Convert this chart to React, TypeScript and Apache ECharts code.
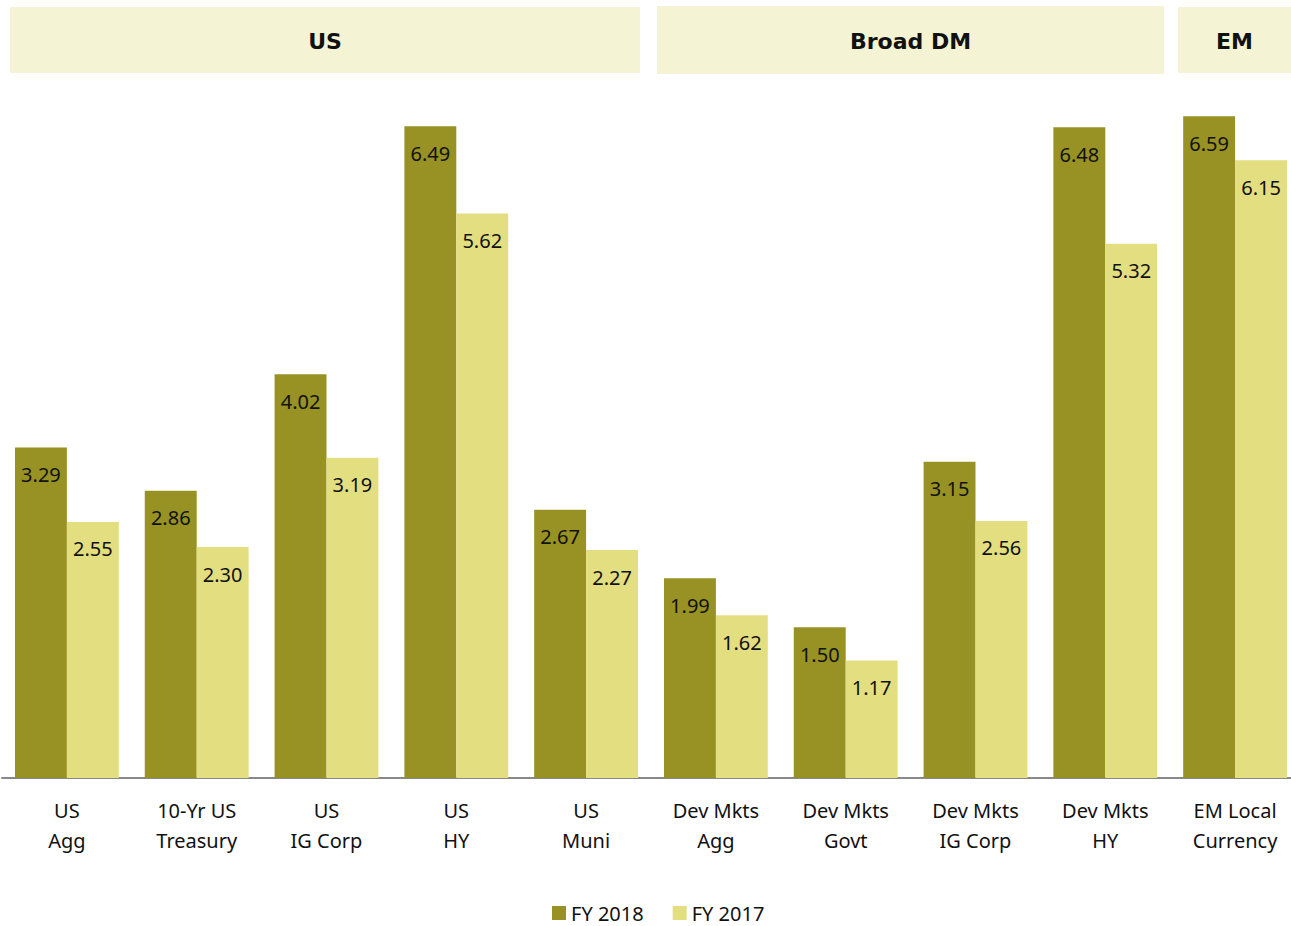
import React, { useEffect, useRef } from "react";
import * as echarts from "echarts";

const categories = [
  "US\nAgg",
  "10-Yr US\nTreasury",
  "US\nIG Corp",
  "US\nHY",
  "US\nMuni",
  "Dev Mkts\nAgg",
  "Dev Mkts\nGovt",
  "Dev Mkts\nIG Corp",
  "Dev Mkts\nHY",
  "EM Local\nCurrency",
];
const fy2018 = [3.29, 2.86, 4.02, 6.49, 2.67, 1.99, 1.5, 3.15, 6.48, 6.59];
const fy2017 = [2.55, 2.3, 3.19, 5.62, 2.27, 1.62, 1.17, 2.56, 5.32, 6.15];
const groupLabels = ["US", "Broad DM", "EM"];

const FONT = "'Noto Sans', sans-serif";

export default function App() {
  const ref = useRef<HTMLDivElement>(null);
  useEffect(() => {
    if (!ref.current) return;
    const chart = echarts.init(ref.current, null, { renderer: "svg" });
    const headerBoxes = [
      { x: 10, y: 7, w: 630, h: 66 },
      { x: 657, y: 6, w: 507, h: 68 },
      { x: 1178, y: 7, w: 113, h: 66 },
    ];
    const labelOpt = {
      show: true,
      position: "insideTop" as const,
      distance: 17,
      color: "#111",
      fontSize: 20,
      fontFamily: FONT,
      formatter: (p: any) => Number(p.value).toFixed(2),
    };
    chart.setOption({
      animation: false,
      backgroundColor: "#fff",
      graphic: headerBoxes.map((b, i) => ({
        type: "group",
        children: [
          {
            type: "rect",
            shape: { x: b.x, y: b.y, width: b.w, height: b.h },
            style: { fill: "#f4f3d4" },
          },
          {
            type: "text",
            x: b.x + b.w / 2,
            y: b.y + b.h / 2 + 1,
            style: {
              text: groupLabels[i],
              fill: "#111",
              font: "bold 22px 'DejaVu Sans', sans-serif",
              align: "center",
              verticalAlign: "middle",
            },
          },
        ],
      })),
      legend: {
        left: 552,
        top: 903,
        padding: 0,
        icon: "rect",
        itemWidth: 14,
        itemHeight: 14,
        itemGap: 29,
        textStyle: { fontSize: 20, fontFamily: FONT, color: "#111" },
        data: ["FY 2018", "FY 2017"],
      },
      grid: { left: 2, width: 1298, top: 75, height: 703, outerBoundsMode: "none", containLabel: false },
      xAxis: {
        type: "category",
        data: categories,
        axisLine: { show: true, lineStyle: { color: "#888", width: 2 } },
        axisTick: { show: false },
        axisLabel: {
          interval: 0,
          margin: 17,
          fontSize: 20,
          lineHeight: 30,
          fontFamily: FONT,
          color: "#111",
        },
      },
      yAxis: {
        type: "value",
        min: 0,
        max: 7,
        show: false,
        splitLine: { show: false },
      },
      series: [
        {
          name: "FY 2018",
          type: "bar",
          data: fy2018,
          barGap: "0%",
          barCategoryGap: "20%",
          itemStyle: { color: "#979223" },
          label: labelOpt,
        },
        {
          name: "FY 2017",
          type: "bar",
          data: fy2017,
          barGap: "0%",
          barCategoryGap: "20%",
          itemStyle: { color: "#e3df80" },
          label: labelOpt,
        },
      ],
    });
    return () => chart.dispose();
  }, []);
  return (
    <div
      ref={ref}
      style={{ position: "absolute", left: 0, top: 0, width: 1291, height: 926 }}
    />
  );
}
